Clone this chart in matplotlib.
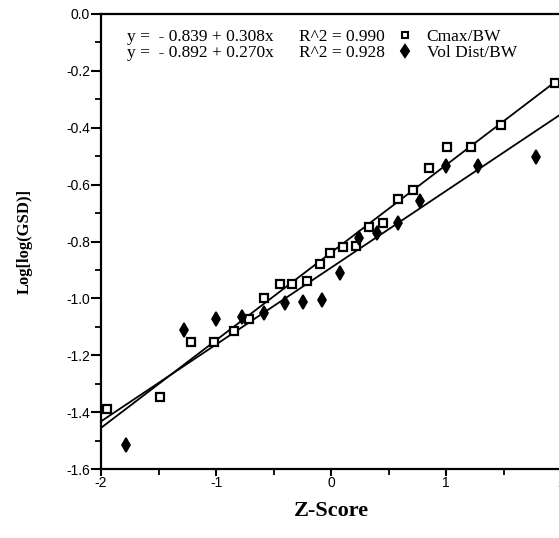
import matplotlib
matplotlib.use("Agg")
import matplotlib.pyplot as plt
import numpy as np
from matplotlib.ticker import MultipleLocator, FormatStrFormatter

plt.rcParams['axes.unicode_minus'] = False

# Cmax/BW normal scores and Log[log(GSD)] values
cmax_z = [-1.95, -1.49, -1.22, -1.02, -0.84, -0.71, -0.58, -0.44, -0.34, -0.21, -0.10,
          -0.01, 0.10, 0.22, 0.33, 0.45, 0.58, 0.71, 0.85, 1.01, 1.22, 1.48, 1.95]
cmax_y = [-1.387, -1.345, -1.153, -1.153, -1.115, -1.073, -0.999, -0.948, -0.948, -0.939, -0.879,
          -0.841, -0.820, -0.815, -0.749, -0.736, -0.651, -0.619, -0.541, -0.469, -0.469, -0.390, -0.242]

# Vol Dist/BW normal scores and Log[log(GSD)] values
vol_z = [-1.78, -1.28, -1.00, -0.77, -0.58, -0.40, -0.24, -0.08,
         0.08, 0.24, 0.40, 0.58, 0.77, 1.00, 1.28, 1.78]
vol_y = [-1.515, -1.111, -1.072, -1.066, -1.050, -1.017, -1.013, -1.005,
         -0.912, -0.789, -0.770, -0.733, -0.659, -0.535, -0.535, -0.503]

# Fitted lines: intercept, slope, R^2
cmax_fit = (-0.839, 0.308, 0.990)
vol_fit = (-0.892, 0.270, 0.928)

series_names = ["Cmax/BW", "Vol Dist/BW"]

fig = plt.figure(figsize=(5.59, 5.38), dpi=100)
ax = fig.add_axes([0.1807, 0.128, 0.8229, 0.846])

xs = np.array([-2.0, 2.0])
for a, b, _ in (cmax_fit, vol_fit):
    ax.plot(xs, a + b * xs, color='black', lw=1.3, zorder=2)

ax.plot(cmax_z, cmax_y, linestyle='none', marker='s', ms=5.8, mfc='white',
        mec='black', mew=1.6, zorder=3)
ax.plot(vol_z, vol_y, linestyle='none', marker='d', ms=7, mfc='black',
        mec='black', mew=1.2, zorder=3)

ax.set_xlim(-2, 2)
ax.set_ylim(-1.6, 0.0)
ax.xaxis.set_major_locator(MultipleLocator(1))
ax.xaxis.set_minor_locator(MultipleLocator(0.5))
ax.yaxis.set_major_locator(MultipleLocator(0.2))
ax.yaxis.set_minor_locator(MultipleLocator(0.1))
ax.xaxis.set_major_formatter(FormatStrFormatter('%d'))
ax.yaxis.set_major_formatter(FormatStrFormatter('%.1f'))

for s in ('left', 'bottom', 'top'):
    ax.spines[s].set_linewidth(1.6)
ax.spines['right'].set_visible(False)

ax.tick_params(axis='y', which='major', direction='out', length=7, width=1.5,
               labelsize=10, pad=1)
ax.tick_params(axis='x', which='major', direction='out', length=5, width=1.5,
               labelsize=10, pad=0)
ax.tick_params(which='minor', direction='out', length=4, width=1.3)
ax.tick_params(top=False, right=False, which='both')
for lab in ax.get_xticklabels() + ax.get_yticklabels():
    lab.set_fontfamily('Liberation Sans')

ax.set_xlabel('Z-Score', fontfamily='Liberation Serif', fontweight='bold',
              fontsize=16, labelpad=8)
ax.set_ylabel('Log[log(GSD)]', fontfamily='Liberation Serif', fontweight='bold',
              fontsize=12, labelpad=24)

# Equation legend
serif = dict(fontfamily='Liberation Serif', fontsize=12.5, va='center',
             transform=ax.transAxes)
rows = [(cmax_fit, series_names[0], 's', 'white', 0.950),
        (vol_fit, series_names[1], 'd', 'black', 0.915)]
for (a, b, r2), name, mk, fc, yy in rows:
    eq = "y =  - %.3f + %.3fx" % (-a, b)
    ax.text(0.056, yy, eq, **serif)
    ax.text(0.430, yy, "R^2 = %.3f" % r2, **serif)
    ax.plot([0.661], [yy + 0.004], transform=ax.transAxes, marker=mk,
            ms=4.5 if mk == 's' else 6, mfc=fc, mec='black', mew=1.5,
            linestyle='none', clip_on=False)
    ax.text(0.708, yy, name, **serif)

fig.savefig('out.png', dpi=100)
